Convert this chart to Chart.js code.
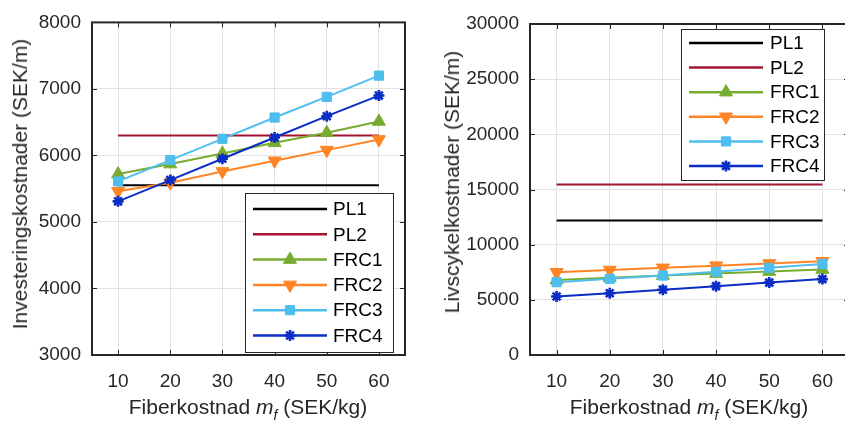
<!DOCTYPE html>
<html>
<head>
<meta charset="utf-8">
<script src="https://cdn.jsdelivr.net/npm/chart.js@4.4.1/dist/chart.umd.min.js"></script>
<style>
  html, body { margin:0; padding:0; background:#fff; }
  body { width:845px; height:421px; overflow:hidden; position:relative; font-family:'Liberation Sans', Arial, sans-serif; }
  .wrap { position:absolute; top:0; }
  .xt { position:absolute; transform:translate(-50%,-50%); white-space:nowrap; font-size:21px; color:#262626; }
  .xt sub { font-size:14px; vertical-align:-6px; line-height:0; }
  .yt { position:absolute; transform:translate(-50%,-50%) rotate(-90deg); white-space:nowrap; font-size:21px; color:#262626; }
</style>
</head>
<body>
<div class="wrap" style="left:0;width:420px;height:421px"><canvas id="c1" width="420" height="421"></canvas></div>
<div class="wrap" style="left:420px;width:440px;height:421px"><canvas id="c2" width="440" height="421"></canvas></div>
<div class="xt" style="left:248px;top:407px">Fiberkostnad <i>m</i><sub><i>f</i></sub> (SEK/kg)</div>
<div class="xt" style="left:689px;top:407px">Fiberkostnad <i>m</i><sub><i>f</i></sub> (SEK/kg)</div>
<div class="yt" style="left:20px;top:184px">Investeringskostnader (SEK/m)</div>
<div class="yt" style="left:452px;top:182px">Livscykelkostnader (SEK/m)</div>
<script>
// ---------- data ----------
const fiberCost = [10, 20, 30, 40, 50, 60];
const xTickLabels = [10, 20, 30, 40, 50, 60];
const seriesNames = ['PL1', 'PL2', 'FRC1', 'FRC2', 'FRC3', 'FRC4'];

// Investeringskostnader (SEK/m)
const invPL1  = [5550, 5550, 5550, 5550, 5550, 5550];
const invPL2  = [6300, 6300, 6300, 6300, 6300, 6300];
const invFRC1 = [5720, 5870, 6030, 6190, 6340, 6510];
const invFRC2 = [5460, 5590, 5760, 5920, 6080, 6240];
const invFRC3 = [5610, 5930, 6250, 6570, 6880, 7200];
const invFRC4 = [5310, 5630, 5950, 6270, 6590, 6900];
const invTicks = [3000, 4000, 5000, 6000, 7000, 8000];

// Livscykelkostnader (SEK/m)
const lccPL1  = [12200, 12200, 12200, 12200, 12200, 12200];
const lccPL2  = [15450, 15450, 15450, 15450, 15450, 15450];
const lccFRC1 = [6800, 7000, 7200, 7380, 7560, 7750];
const lccFRC2 = [7500, 7700, 7900, 8100, 8300, 8500];
const lccFRC3 = [6600, 6900, 7200, 7550, 7900, 8250];
const lccFRC4 = [5300, 5600, 5920, 6240, 6560, 6880];
const lccTicks = [0, 5000, 10000, 15000, 20000, 25000, 30000];

// ---------- styles ----------
const TXT = '#262626';
const FONT = '"Liberation Sans", Arial, sans-serif';
const styles = [
  { color:'#000000', pointStyle:'circle',   radius:0,   rotation:0,   bw:2 },
  { color:'#A2142F', pointStyle:'circle',   radius:0,   rotation:0,   bw:2 },
  { color:'#77AC30', pointStyle:'triangle', radius:7.5, rotation:0,   bw:1 },
  { color:'#FF8426', pointStyle:'triangle', radius:7.5, rotation:180, bw:1 },
  { color:'#4DBEEE', pointStyle:'rect',     radius:6.5, rotation:0,   bw:1 },
  { color:'#0A2DC8', pointStyle:'star',     radius:5.5, rotation:0,   bw:2.6 }
];

function pts(arr) { return fiberCost.map((x, i) => ({ x: x, y: arr[i] })); }

function makeDatasets(list) {
  return list.map((arr, i) => ({
    label: seriesNames[i],
    data: pts(arr),
    borderColor: styles[i].color,
    backgroundColor: styles[i].color,
    borderWidth: 2,
    pointStyle: styles[i].pointStyle,
    pointRadius: styles[i].radius,
    pointRotation: styles[i].rotation,
    pointBorderWidth: styles[i].bw,
    pointBorderColor: styles[i].color,
    pointBackgroundColor: styles[i].color,
    tension: 0,
    order: 6 - i,
    clip: false
  }));
}

const framePlugin = {
  id: 'frame',
  afterDatasetsDraw(chart, args, opts) {
    const ctx = chart.ctx, a = chart.chartArea, x = chart.scales.x, y = chart.scales.y;
    ctx.save();
    ctx.strokeStyle = TXT;
    ctx.lineWidth = 1;
    const L = 5;
    ctx.beginPath();
    x.ticks.forEach(t => {
      const px = Math.round(x.getPixelForValue(t.value)) + 0.5;
      ctx.moveTo(px, a.bottom); ctx.lineTo(px, a.bottom - L);
      ctx.moveTo(px, a.top); ctx.lineTo(px, a.top + L);
    });
    y.ticks.forEach(t => {
      const py = Math.round(y.getPixelForValue(t.value)) + 0.5;
      ctx.moveTo(a.left, py); ctx.lineTo(a.left + L, py);
      ctx.moveTo(a.right, py); ctx.lineTo(a.right - L, py);
    });
    ctx.stroke();
    ctx.lineWidth = 2;
    ctx.strokeRect(a.left, a.top, a.right - a.left, a.bottom - a.top);

    // legend
    const lg = opts.legend;
    ctx.fillStyle = '#ffffff';
    ctx.fillRect(lg.x1, lg.y1, lg.x2 - lg.x1, lg.y2 - lg.y1);
    ctx.lineWidth = 1;
    ctx.strokeStyle = TXT;
    ctx.strokeRect(lg.x1 + 0.5, lg.y1 + 0.5, lg.x2 - lg.x1, lg.y2 - lg.y1);
    ctx.font = '19px ' + FONT;
    ctx.textBaseline = 'middle';
    ctx.textAlign = 'left';
    chart.data.datasets.forEach((ds, i) => {
      const ry = lg.rowY0 + i * lg.rowDy;
      ctx.strokeStyle = ds.borderColor;
      ctx.lineWidth = 2.5;
      ctx.beginPath();
      ctx.moveTo(lg.lineX1, ry); ctx.lineTo(lg.lineX2, ry);
      ctx.stroke();
      if (ds.pointRadius > 0) {
        ctx.fillStyle = ds.pointBackgroundColor;
        ctx.strokeStyle = ds.pointBorderColor;
        ctx.lineWidth = ds.pointBorderWidth;
        Chart.helpers.drawPoint(ctx, {
          pointStyle: ds.pointStyle, rotation: ds.pointRotation,
          radius: ds.pointRadius, borderWidth: ds.pointBorderWidth
        }, (lg.lineX1 + lg.lineX2) / 2, ry);
      }
      ctx.fillStyle = '#000000';
      ctx.fillText(ds.label, lg.textX, ry + 1);
    });
    ctx.restore();
  }
};

function makeChart(id, lists, yTicks, cfg) {
  return new Chart(document.getElementById(id), {
    type: 'line',
    data: { datasets: makeDatasets(lists) },
    plugins: [framePlugin],
    options: {
      responsive: false,
      animation: false,
      devicePixelRatio: 1,
      events: [],
      layout: { padding: { top: cfg.top, right: cfg.right, left: 0, bottom: 0 } },
      plugins: {
        legend: { display: false },
        tooltip: { enabled: false },
        frame: { legend: cfg.legend }
      },
      scales: {
        x: {
          type: 'linear', min: 5, max: 65,
          afterBuildTicks: s => { s.ticks = xTickLabels.map(v => ({ value: v })); },
          afterFit: s => { s.height = cfg.xh; },
          grid: { color: '#e2e2e2', drawTicks: false, lineWidth: 1 },
          border: { display: false },
          ticks: { color: TXT, padding: cfg.xpad, font: { family: FONT, size: 19 },
                   callback: v => String(v), maxRotation: 0, autoSkip: false }
        },
        y: {
          type: 'linear', min: yTicks[0], max: yTicks[yTicks.length - 1],
          afterBuildTicks: s => { s.ticks = yTicks.map(v => ({ value: v })); },
          afterFit: s => { s.width = cfg.yw; },
          grid: { color: '#e2e2e2', drawTicks: false, lineWidth: 1 },
          border: { display: false },
          ticks: { color: TXT, padding: cfg.ypad, font: { family: FONT, size: 19 },
                   callback: v => String(v), autoSkip: false }
        }
      }
    }
  });
}

makeChart('c1', [invPL1, invPL2, invFRC1, invFRC2, invFRC3, invFRC4], invTicks, {
  top: 19, right: 15, xh: 66, yw: 92, xpad: 15, ypad: 11,
  legend: { x1: 245, y1: 193, x2: 393, y2: 352, rowY0: 209, rowDy: 25.3, lineX1: 253, lineX2: 327, textX: 333 }
});
makeChart('c2', [lccPL1, lccPL2, lccFRC1, lccFRC2, lccFRC3, lccFRC4], lccTicks, {
  top: 24, right: 11, xh: 66, yw: 110, xpad: 15, ypad: 11,
  legend: { x1: 261, y1: 29, x2: 404, y2: 180, rowY0: 43, rowDy: 24.6, lineX1: 269, lineX2: 343, textX: 350 }
});
</script>
</body>
</html>
